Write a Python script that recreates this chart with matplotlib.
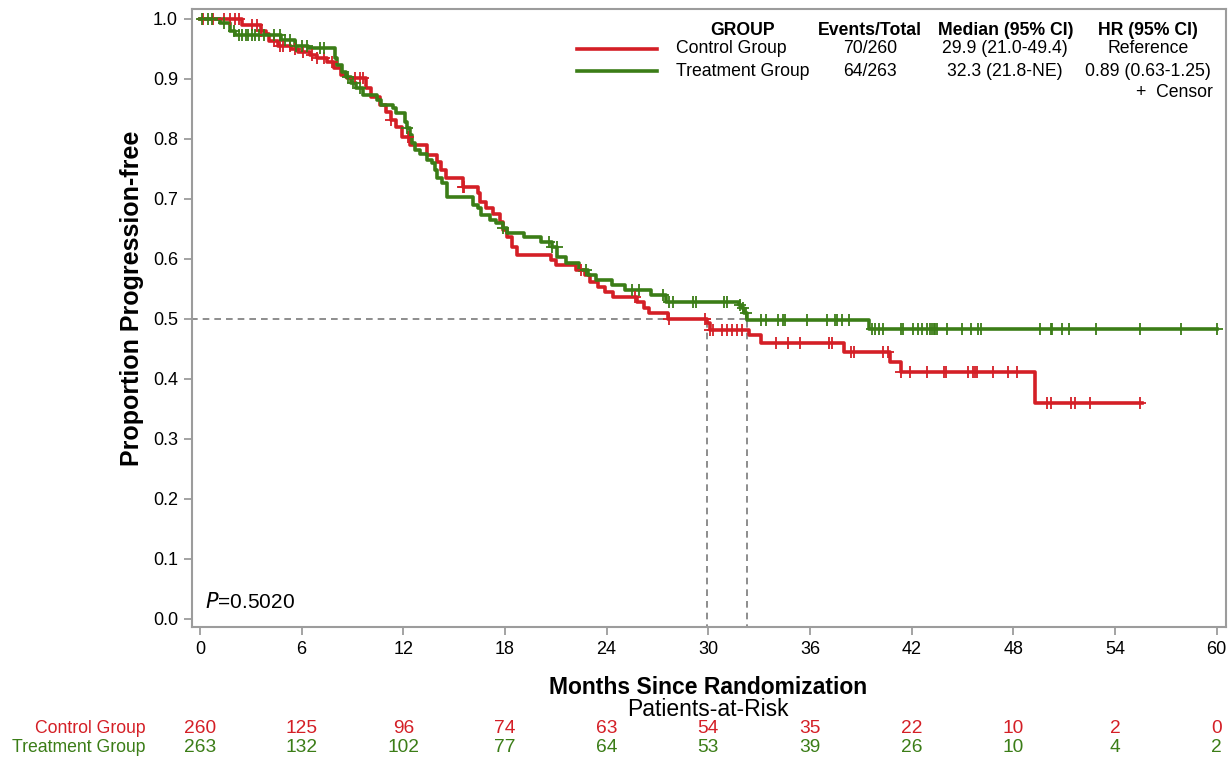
import numpy as np
import matplotlib
matplotlib.use('Agg')
import matplotlib.pyplot as plt
from matplotlib.transforms import blended_transform_factory

plt.rcParams['font.family'] = ['Liberation Sans', 'DejaVu Sans']

# step times (months) and survival level after each step
ctrl_t = [0, 2.5, 3.6, 3.9, 4.1, 4.6, 5.4, 5.8, 6.5, 6.9, 7.5, 7.9, 8.3, 8.7, 9.8,
          10.1, 10.6, 11.0, 11.3, 11.6, 11.9, 12.4, 13.4, 14.0, 14.2, 14.5, 15.5,
          16.4, 16.5, 16.9, 17.3, 17.7, 17.9, 18.1, 18.4, 18.7, 20.7, 21.0, 22.2,
          22.7, 23.0, 23.5, 23.9, 24.4, 25.8, 26.2, 26.5, 27.6, 29.9, 30.1, 32.4,
          33.1, 38.0, 40.7, 41.4, 49.3]
ctrl_s = [1.0, 0.990, 0.980, 0.975, 0.962, 0.955, 0.950, 0.944, 0.939, 0.934, 0.928,
          0.918, 0.906, 0.901, 0.884, 0.869, 0.856, 0.844, 0.831, 0.819, 0.803, 0.789,
          0.772, 0.761, 0.747, 0.734, 0.720, 0.709, 0.694, 0.684, 0.675, 0.661, 0.647,
          0.636, 0.619, 0.606, 0.597, 0.589, 0.581, 0.572, 0.561, 0.552, 0.544, 0.536,
          0.528, 0.517, 0.509, 0.500, 0.492, 0.481, 0.472, 0.459, 0.444, 0.428, 0.411,
          0.359]
ctrl_end = 55.6
ctrl_cens = [0.2, 0.8, 1.4, 1.8, 2.1, 2.3, 3.05, 3.35, 3.6, 4.4, 4.7, 4.9, 5.3, 5.6,
             6.1, 6.6, 6.9, 7.3, 7.8, 9.15, 9.45, 9.6, 11.3, 12.3, 15.5, 15.6, 22.5,
             25.7, 27.7, 29.8, 30.1, 30.3, 30.8, 31.1, 31.4, 31.7, 32.0, 34.0, 34.7,
             35.4, 37.1, 37.3, 38.4, 38.6, 40.3, 40.6, 41.4, 41.9, 42.9, 43.9, 44.0,
             45.3, 45.6, 45.75, 45.85, 46.8, 47.7, 48.2, 50.0, 50.2, 51.4, 51.65, 52.5,
             55.5]

trt_t = [0, 1.2, 1.8, 2.1, 4.8, 5.6, 6.4, 8.0, 8.1, 8.4, 8.6, 8.9, 9.2, 9.6, 10.45,
         10.7, 11.4, 11.6, 12.1, 12.2, 12.4, 12.5, 12.7, 13.0, 13.4, 13.7, 13.9, 14.0,
         14.3, 14.6, 16.1, 16.4, 16.6, 17.1, 17.5, 17.9, 18.1, 19.1, 20.1, 20.8, 21.1,
         21.6, 22.4, 22.9, 23.4, 24.3, 25.1, 26.6, 27.5, 31.8, 32.0, 32.1, 32.3, 39.5]
trt_s = [1.0, 0.993, 0.980, 0.972, 0.964, 0.955, 0.951, 0.935, 0.922, 0.911, 0.903,
         0.893, 0.884, 0.872, 0.864, 0.856, 0.851, 0.842, 0.827, 0.817, 0.806, 0.792,
         0.781, 0.775, 0.764, 0.759, 0.747, 0.734, 0.726, 0.703, 0.689, 0.684, 0.672,
         0.664, 0.659, 0.651, 0.643, 0.636, 0.628, 0.619, 0.603, 0.592, 0.581, 0.573,
         0.564, 0.556, 0.548, 0.539, 0.528, 0.522, 0.517, 0.509, 0.497, 0.482]
trt_end = 60.0
trt_cens = [0.1, 0.5, 0.7, 1.4, 2.0, 2.3, 2.5, 2.7, 2.85, 3.05, 3.25, 3.5, 3.8, 4.4,
            4.7, 5.0, 5.3, 5.7, 6.0, 6.3, 7.1, 7.3, 8.75, 9.05, 9.45, 12.2, 17.9, 20.6,
            20.8, 21.05, 22.8, 25.5, 25.9, 27.3, 27.7, 27.9, 29.1, 29.3, 30.9, 31.1,
            31.9, 32.05, 32.2, 33.1, 33.4, 34.1, 34.4, 34.5, 35.8, 37.0, 37.5, 37.6,
            37.9, 38.3, 39.65, 39.85, 40.1, 40.3, 41.4, 41.5, 42.1, 42.4, 42.6, 42.9,
            43.1, 43.2, 43.3, 43.4, 43.5, 44.1, 45.0, 45.5, 45.9, 46.1, 49.6, 50.2,
            50.3, 50.9, 51.3, 52.9, 55.5, 57.9, 60.0]

medians = [29.9, 32.3]
at_risk_times = [0, 6, 12, 18, 24, 30, 36, 42, 48, 54, 60]
ctrl_risk = [260, 125, 96, 74, 63, 54, 35, 22, 10, 2, 0]
trt_risk = [263, 132, 102, 77, 64, 53, 39, 26, 10, 4, 2]

red = '#d41f26'
green = '#3b7d17'
grey = '#9c9c9c'

fig = plt.figure(figsize=(12.32, 7.58), dpi=100)
ax = fig.add_axes([0.1558, 0.1728, 0.8393, 0.8153])


def surv_at(t, times, levels):
    idx = np.searchsorted(times, t, side='right') - 1
    return np.asarray(levels)[idx]


for times, levels, end, cens, col in [(ctrl_t, ctrl_s, ctrl_end, ctrl_cens, red),
                                      (trt_t, trt_s, trt_end, trt_cens, green)]:
    xs = list(times) + [end]
    ys = list(levels) + [levels[-1]]
    ax.step(xs, ys, where='post', color=col, lw=2.6, zorder=3)
    cy = surv_at(np.array(cens), times, levels)
    ax.plot(cens, cy, ls='none', marker='+', ms=8, mew=1.3, color=col, zorder=4)

# median reference lines
ax.plot([-0.5, medians[1]], [0.5, 0.5], color='#7a7a7a', lw=1.2, ls=(0, (4, 3)), zorder=2)
for m in medians:
    ax.plot([m, m], [-0.02, 0.5], color='#7a7a7a', lw=1.2, ls=(0, (4, 3)), zorder=2)

ax.set_xlim(-0.47, 60.55)
ax.set_ylim(-0.014, 1.016)
ax.set_xticks(at_risk_times)
ax.set_yticks(np.round(np.arange(0, 1.01, 0.1), 1))
ax.set_yticklabels(['%.1f' % v for v in np.arange(0, 1.01, 0.1)])
ax.tick_params(axis='both', direction='out', length=6, width=1.3, color=grey,
               labelsize=13, pad=4)
for sp in ax.spines.values():
    sp.set_color(grey)
    sp.set_linewidth(1.5)

fig.text(0.107, 0.607, 'Proportion Progression-free', rotation=90, ha='center',
         va='center', fontsize=18, fontweight='bold')

bt = blended_transform_factory(ax.transData, fig.transFigure)
ax.text(30, 0.0925, 'Months Since Randomization', transform=bt, ha='center',
        va='center', fontsize=16.5, fontweight='bold')
ax.text(30, 0.0646, 'Patients-at-Risk', transform=bt, ha='center', va='center',
        fontsize=16.5)
fig.text(0.1185, 0.0383, 'Control Group', ha='right', va='center', fontsize=12.7, color=red)
fig.text(0.1185, 0.0145, 'Treatment Group', ha='right', va='center', fontsize=12.7, color=green)
for t, c, g in zip(at_risk_times, ctrl_risk, trt_risk):
    ax.text(t, 0.0383, str(c), transform=bt, ha='center', va='center', fontsize=13.8, color=red)
    ax.text(t, 0.0145, str(g), transform=bt, ha='center', va='center', fontsize=13.8, color=green)

ax.text(0.013, 0.024, r'$\it{P}$=0.5020', transform=ax.transAxes, fontsize=15,
        ha='left', va='bottom')

# legend table
hy, r1, r2, r3 = 0.9604, 0.9354, 0.9063, 0.8786
cols = [0.603, 0.706, 0.816, 0.932]
heads = ['GROUP', 'Events/Total', 'Median (95% CI)', 'HR (95% CI)']
for x, h in zip(cols, heads):
    fig.text(x, hy, h, ha='center', va='center', fontsize=12.7, fontweight='bold')
rows = [('Control Group', '70/260', '29.9 (21.0-49.4)', 'Reference', red, r1),
        ('Treatment Group', '64/263', '32.3 (21.8-NE)', '0.89 (0.63-1.25)', green, r2)]
for name, ev, med, hr, col, yy in rows:
    fig.add_artist(plt.Line2D([0.468, 0.533], [yy, yy], color=col, lw=2.6,
                              transform=fig.transFigure))
    fig.text(0.549, yy, name, ha='left', va='center', fontsize=12.7)
    fig.text(cols[1], yy, ev, ha='center', va='center', fontsize=12.7)
    fig.text(cols[2], yy, med, ha='center', va='center', fontsize=12.7)
    fig.text(cols[3], yy, hr, ha='center', va='center', fontsize=12.7)
fig.text(0.9845, r3, '+  Censor', ha='right', va='center', fontsize=12.7)

fig.savefig('out.png', dpi=100)
